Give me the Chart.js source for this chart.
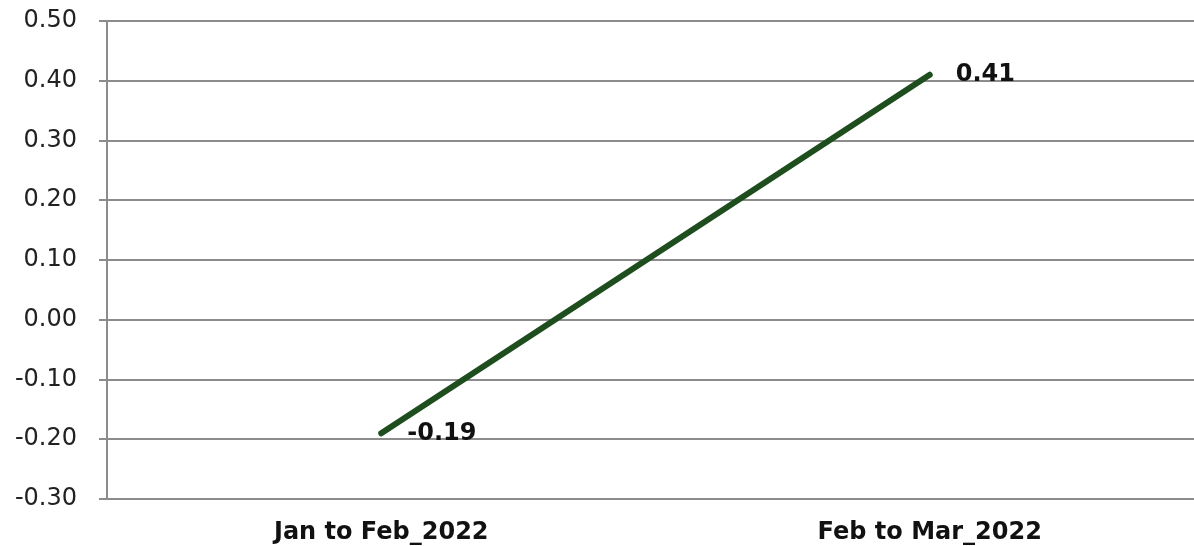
<!DOCTYPE html>
<html>
<head>
<meta charset="utf-8">
<script src="https://cdn.jsdelivr.net/npm/chart.js@4/dist/chart.umd.min.js"></script>
<style>
    html,body{margin:0;padding:0;background:#fff;overflow:hidden;}
    #wrap{position:relative;width:1204px;height:546px;}
</style>
</head>
<body>
<div id="wrap"><canvas id="changeChart"></canvas></div>
<script>
var periods=['Jan to Feb_2022','Feb to Mar_2022'];
var change=[-0.19,0.41];
var yTicks=[-0.30,-0.20,-0.10,0.00,0.10,0.20,0.30,0.40,0.50];

var gridGrey='#8c8c8c';
var lineGreen='#1e4d1e';

// value text to the right of each point
var pointLabels={
    id:'pointLabels',
    afterDatasetsDraw:function(chart){
        var ctx=chart.ctx;
        var meta=chart.getDatasetMeta(0);
        ctx.save();
        ctx.font='bold 24px "DejaVu Sans"';
        ctx.fillStyle='#111';
        ctx.textAlign='left';
        ctx.textBaseline='middle';
        meta.data.forEach(function(pt,i){
            ctx.fillText(change[i].toFixed(2),pt.x+26,pt.y);
        });
        ctx.restore();
    }
};

function drawChartChange(){
    var ctx=document.getElementById('changeChart').getContext('2d');

    var data={
        labels:periods,
        datasets:[{
            data:change,
            borderColor:lineGreen,
            borderWidth:6,
            borderCapStyle:'round',
            pointRadius:0,
            tension:0
        }]
    };

    new Chart(ctx,{
        type:'line',
        data:data,
        plugins:[pointLabels],
        options:{
            responsive:true,
            maintainAspectRatio:false,
            animation:false,
            layout:{padding:{left:15,top:21,right:0,bottom:0}},
            plugins:{
                legend:{display:false},
                tooltip:{enabled:false}
            },
            scales:{
                x:{
                    offset:true,
                    afterFit:function(axis){axis.height=47;},
                    grid:{display:false,drawTicks:false},
                    border:{display:true,color:gridGrey,width:2},
                    ticks:{
                        padding:19,
                        color:'#111',
                        font:{family:'DejaVu Sans',size:24,weight:'bold'}
                    }
                },
                y:{
                    min:-0.3,
                    max:0.5,
                    afterFit:function(axis){
                        axis.width=92;
                        // keep the top/bottom label overhang out of the layout
                        axis.paddingTop=0;
                        axis.paddingBottom=0;
                    },
                    afterBuildTicks:function(axis){
                        axis.ticks=yTicks.map(function(v){return {value:v};});
                    },
                    grid:{color:gridGrey,lineWidth:2,tickLength:8},
                    border:{display:true,color:gridGrey,width:2},
                    ticks:{
                        padding:22,
                        color:'#222',
                        font:{family:'DejaVu Sans',size:24},
                        callback:function(v){return Number(v).toFixed(2);}
                    }
                }
            }
        }
    });
}

drawChartChange();
</script>
</body>
</html>
